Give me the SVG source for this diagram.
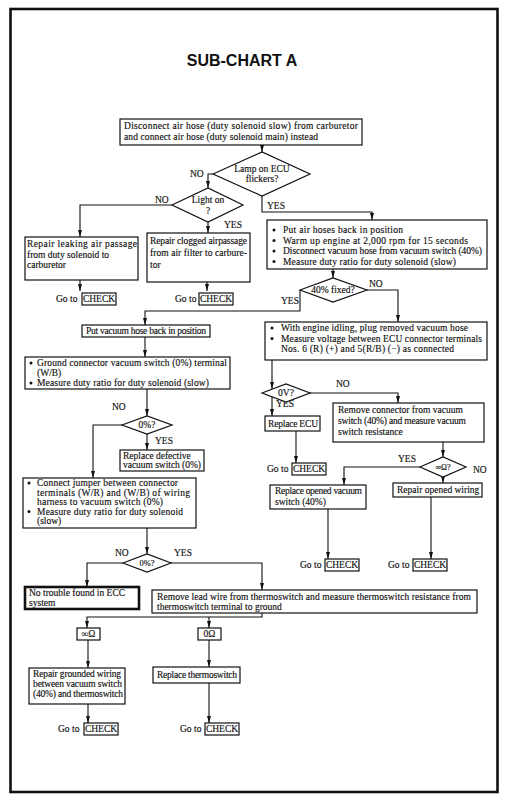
<svg xmlns="http://www.w3.org/2000/svg" width="509" height="804" viewBox="0 0 509 804">
<style>
.t{font-family:"Liberation Serif","Times New Roman",serif;font-size:9.5px;fill:#111;stroke:#111;stroke-width:0.15}
.m{text-anchor:middle}
.b{fill:#fff;stroke:#111;stroke-width:1.2}
.c{fill:none;stroke:#111;stroke-width:1.1}
.d{fill:#111}
.ttl{font-family:"Liberation Sans",Arial,sans-serif;font-size:16px;font-weight:bold;fill:#111;text-anchor:middle}
</style>
<defs>
<marker id="ah" viewBox="0 0 7 4" refX="7" refY="2" markerWidth="7" markerHeight="4" markerUnits="userSpaceOnUse" orient="auto"><path d="M0,0 L7,2 L0,4 z" fill="#111"/></marker>
</defs>
<rect x="10.5" y="9" width="487" height="783" fill="#fff" stroke="#111" stroke-width="2.6"/>
<text class="ttl" x="242" y="66">SUB-CHART A</text>

<g id="connectors">
<path class="c" d="M262,145 V152" marker-end="url(#ah)"/>
<path class="c" d="M213,174 H208 V188" marker-end="url(#ah)"/>
<path class="c" d="M172,205 H80 V237" marker-end="url(#ah)"/>
<path class="c" d="M208,222 V233" marker-end="url(#ah)"/>
<path class="c" d="M80,280 V291" marker-end="url(#ah)"/>
<path class="c" d="M207,282 V291" marker-end="url(#ah)"/>
<path class="c" d="M262,196 V212 H372 V220" marker-end="url(#ah)"/>
<path class="c" d="M333,269 V278" marker-end="url(#ah)"/>
<path class="c" d="M367,290 H398 V322" marker-end="url(#ah)"/>
<path class="c" d="M300,290 V311 H145 V325" marker-end="url(#ah)"/>
<path class="c" d="M145,337 V357" marker-end="url(#ah)"/>
<path class="c" d="M147,389 V416" marker-end="url(#ah)"/>
<path class="c" d="M122,425 H93 V478" marker-end="url(#ah)"/>
<path class="c" d="M147,434 V450" marker-end="url(#ah)"/>
<path class="c" d="M147,528 V554" marker-end="url(#ah)"/>
<path class="c" d="M123,563 H87 V587" marker-end="url(#ah)"/>
<path class="c" d="M171,563 H262 V590" marker-end="url(#ah)"/>
<path class="c" d="M262,613 V617 H87 V628" marker-end="url(#ah)"/>
<path class="c" d="M209,617 V628" marker-end="url(#ah)"/>
<path class="c" d="M88,640 V668" marker-end="url(#ah)"/>
<path class="c" d="M209,640 V667" marker-end="url(#ah)"/>
<path class="c" d="M88,704 V723" marker-end="url(#ah)"/>
<path class="c" d="M209,683 V723" marker-end="url(#ah)"/>
<path class="c" d="M272,360 V389" marker-end="url(#ah)"/>
<path class="c" d="M272,397 V416" marker-end="url(#ah)"/>
<path class="c" d="M296,430 V463" marker-end="url(#ah)"/>
<path class="c" d="M310,393 H398 V403" marker-end="url(#ah)"/>
<path class="c" d="M443,442 V457" marker-end="url(#ah)"/>
<path class="c" d="M420,467 H344 V485" marker-end="url(#ah)"/>
<path class="c" d="M443,477 V483" marker-end="url(#ah)"/>
<path class="c" d="M328,508 V559" marker-end="url(#ah)"/>
<path class="c" d="M431,496 V559" marker-end="url(#ah)"/>
</g>

<g id="labels">
<text class="t" x="190" y="177">NO</text>
<text class="t" x="155" y="203">NO</text>
<text class="t" x="224" y="228">YES</text>
<text class="t" x="267" y="209">YES</text>
<text class="t" x="369" y="287">NO</text>
<text class="t" x="281" y="304">YES</text>
<text class="t" x="112" y="410">NO</text>
<text class="t" x="155" y="444">YES</text>
<text class="t" x="115" y="556">NO</text>
<text class="t" x="174" y="556">YES</text>
<text class="t" x="276" y="407">YES</text>
<text class="t" x="336" y="387">NO</text>
<text class="t" x="398" y="462">YES</text>
<text class="t" x="473" y="473">NO</text>
</g>

<g id="n-start">
<rect class="b" x="120" y="119" width="242" height="26"/>
<text class="t" x="124" y="129" textLength="234">Disconnect air hose (duty solenoid slow) from carburetor</text>
<text class="t" x="124" y="140" textLength="194">and connect air hose (duty solenoid main) instead</text>
</g>
<g id="n-lamp">
<polygon class="b" points="213,174 262,152 310,174 262,196"/>
<text class="t m" x="262" y="172">Lamp on ECU</text>
<text class="t m" x="262" y="182">flickers?</text>
</g>
<g id="n-light">
<polygon class="b" points="172,205 208,188 243,205 208,222"/>
<text class="t m" x="208" y="203">Light on</text>
<text class="t m" x="208" y="214">?</text>
</g>
<g id="n-leak">
<rect class="b" x="25" y="237" width="113" height="43"/>
<text class="t" x="27" y="247" textLength="110">Repair leaking air passage</text>
<text class="t" x="27" y="257.5">from duty solenoid to</text>
<text class="t" x="27" y="268">carburetor</text>
</g>
<g id="n-clog">
<rect class="b" x="147" y="233" width="103" height="49"/>
<text class="t" x="150" y="244" textLength="97">Repair clogged airpassage</text>
<text class="t" x="150" y="256" textLength="97">from air filter to carbure-</text>
<text class="t" x="150" y="268">tor</text>
</g>
<g id="n-check1">
<text class="t" x="56" y="302">Go to</text>
<rect class="b" x="82" y="293" width="34" height="12"/>
<text class="t m" x="99" y="302">CHECK</text>
</g>
<g id="n-check2">
<text class="t" x="175" y="302">Go to</text>
<rect class="b" x="199" y="293" width="34" height="12"/>
<text class="t m" x="216" y="302">CHECK</text>
</g>
<g id="n-hoses">
<rect class="b" x="267" y="220" width="220" height="49"/>
<circle class="d" cx="274" cy="230" r="1.5"/>
<circle class="d" cx="274" cy="240.5" r="1.5"/>
<circle class="d" cx="274" cy="251" r="1.5"/>
<circle class="d" cx="274" cy="261.5" r="1.5"/>
<text class="t" x="283" y="233" textLength="120">Put air hoses back in position</text>
<text class="t" x="283" y="243.5" textLength="185">Warm up engine at 2,000 rpm for 15 seconds</text>
<text class="t" x="283" y="254" textLength="199">Disconnect vacuum hose from vacuum switch (40%)</text>
<text class="t" x="283" y="264.5" textLength="173">Measure duty ratio for duty solenoid (slow)</text>
</g>
<g id="n-40fixed">
<polygon class="b" points="300,290 333,278 367,290 333,302"/>
<text class="t m" x="333" y="293">40% fixed?</text>
</g>
<g id="n-putvac">
<rect class="b" x="82" y="325" width="128" height="12"/>
<text class="t" x="86" y="334" textLength="120">Put vacuum hose back in position</text>
</g>
<g id="n-ground">
<rect class="b" x="25" y="357" width="205" height="32"/>
<circle class="d" cx="31" cy="363" r="1.5"/>
<circle class="d" cx="31" cy="383" r="1.5"/>
<text class="t" x="37" y="366" textLength="190">Ground connector vacuum switch (0%) terminal</text>
<text class="t" x="37" y="376">(W/B)</text>
<text class="t" x="37" y="386" textLength="172">Measure duty ratio for duty solenoid (slow)</text>
</g>
<g id="n-0pct1">
<polygon class="b" points="122,425 147,416 172,425 147,434"/>
<text class="t m" x="147" y="428">0%?</text>
</g>
<g id="n-replacedef">
<rect class="b" x="120" y="450" width="84" height="21"/>
<text class="t" x="123" y="458.5">Replace defective</text>
<text class="t" x="123" y="468" textLength="78">vacuum switch (0%)</text>
</g>
<g id="n-jumper">
<rect class="b" x="23" y="478" width="173" height="50"/>
<circle class="d" cx="29" cy="483" r="1.5"/>
<circle class="d" cx="29" cy="511.5" r="1.5"/>
<text class="t" x="37" y="486" textLength="141">Connect jumper between connector</text>
<text class="t" x="37" y="495.5" textLength="153">terminals (W/R) and (W/B) of wiring</text>
<text class="t" x="37" y="505" textLength="126">harness to vacuum switch (0%)</text>
<text class="t" x="37" y="514.5" textLength="146">Measure duty ratio for duty solenoid</text>
<text class="t" x="37" y="524">(slow)</text>
</g>
<g id="n-0pct2">
<polygon class="b" points="123,563 147,554 171,563 147,572"/>
<text class="t m" x="147" y="566" style="font-size:8.5px">0%?</text>
</g>
<g id="n-notrouble">
<rect x="25" y="587" width="114" height="22" fill="#fff" stroke="#111" stroke-width="2.6"/>
<text class="t" x="29" y="596">No trouble found in ECC</text>
<text class="t" x="29" y="605.5">system</text>
</g>
<g id="n-removelead">
<rect class="b" x="152" y="590" width="325" height="23"/>
<text class="t" x="157" y="599.5" textLength="314">Remove lead wire from thermoswitch and measure thermoswitch resistance from</text>
<text class="t" x="157" y="609.5">thermoswitch terminal to ground</text>
</g>
<g id="n-inf">
<rect class="b" x="77" y="628" width="23" height="12"/>
<text class="t m" x="88.5" y="637">∞Ω</text>
</g>
<g id="n-zero">
<rect class="b" x="198" y="628" width="23" height="12"/>
<text class="t m" x="209.5" y="637">0Ω</text>
</g>
<g id="n-grounded">
<rect class="b" x="29" y="668" width="96" height="36"/>
<text class="t" x="33" y="677" textLength="88">Repair grounded wiring</text>
<text class="t" x="33" y="687" textLength="89">between vacuum switch</text>
<text class="t" x="33" y="697" textLength="90">(40%) and thermoswitch</text>
</g>
<g id="n-thermo">
<rect class="b" x="153" y="667" width="87" height="16"/>
<text class="t" x="157" y="677.5" textLength="80">Replace thermoswitch</text>
</g>
<g id="n-check6">
<text class="t" x="58" y="732">Go to</text>
<rect class="b" x="84" y="723" width="34" height="12"/>
<text class="t m" x="101" y="732">CHECK</text>
</g>
<g id="n-check7">
<text class="t" x="180" y="732">Go to</text>
<rect class="b" x="205" y="723" width="34" height="12"/>
<text class="t m" x="222" y="732">CHECK</text>
</g>
<g id="n-voltage">
<rect class="b" x="265" y="322" width="222" height="38"/>
<circle class="d" cx="272" cy="328" r="1.5"/>
<circle class="d" cx="272" cy="338.5" r="1.5"/>
<text class="t" x="281" y="331" textLength="187">With engine idling, plug removed vacuum hose</text>
<text class="t" x="281" y="341.5" textLength="201">Measure voltage between ECU connector terminals</text>
<text class="t" x="281" y="352" textLength="173">Nos. 6 (R) (+) and 5(R/B) (−) as connected</text>
</g>
<g id="n-0v">
<polygon class="b" points="262,393 286,384 310,393 286,402"/>
<text class="t m" x="286" y="396">0V?</text>
</g>
<g id="n-ecu">
<rect class="b" x="265" y="416" width="55" height="15"/>
<text class="t" x="268" y="426.5" textLength="50">Replace ECU</text>
</g>
<g id="n-check3">
<text class="t" x="267" y="472">Go to</text>
<rect class="b" x="292" y="463" width="34" height="12"/>
<text class="t m" x="309" y="472">CHECK</text>
</g>
<g id="n-removeconn">
<rect class="b" x="333" y="403" width="151" height="39"/>
<text class="t" x="338" y="413">Remove connector from vacuum</text>
<text class="t" x="338" y="424" textLength="128">switch (40%) and measure vacuum</text>
<text class="t" x="338" y="435">switch resistance</text>
</g>
<g id="n-infq">
<polygon class="b" points="420,467 443,457 466,467 443,477"/>
<text class="t m" x="443" y="470" style="font-size:8px">∞Ω?</text>
</g>
<g id="n-replopen">
<rect class="b" x="270" y="485" width="96" height="24"/>
<text class="t" x="275" y="494" textLength="87">Replace opened vacuum</text>
<text class="t" x="275" y="504.5">switch (40%)</text>
</g>
<g id="n-repwiring">
<rect class="b" x="393" y="483" width="89" height="14"/>
<text class="t" x="397" y="492.5">Repair opened wiring</text>
</g>
<g id="n-check4">
<text class="t" x="300" y="568">Go to</text>
<rect class="b" x="325" y="559" width="34" height="12"/>
<text class="t m" x="342" y="568">CHECK</text>
</g>
<g id="n-check5">
<text class="t" x="388" y="568">Go to</text>
<rect class="b" x="413" y="559" width="34" height="12"/>
<text class="t m" x="430" y="568">CHECK</text>
</g>
</svg>
